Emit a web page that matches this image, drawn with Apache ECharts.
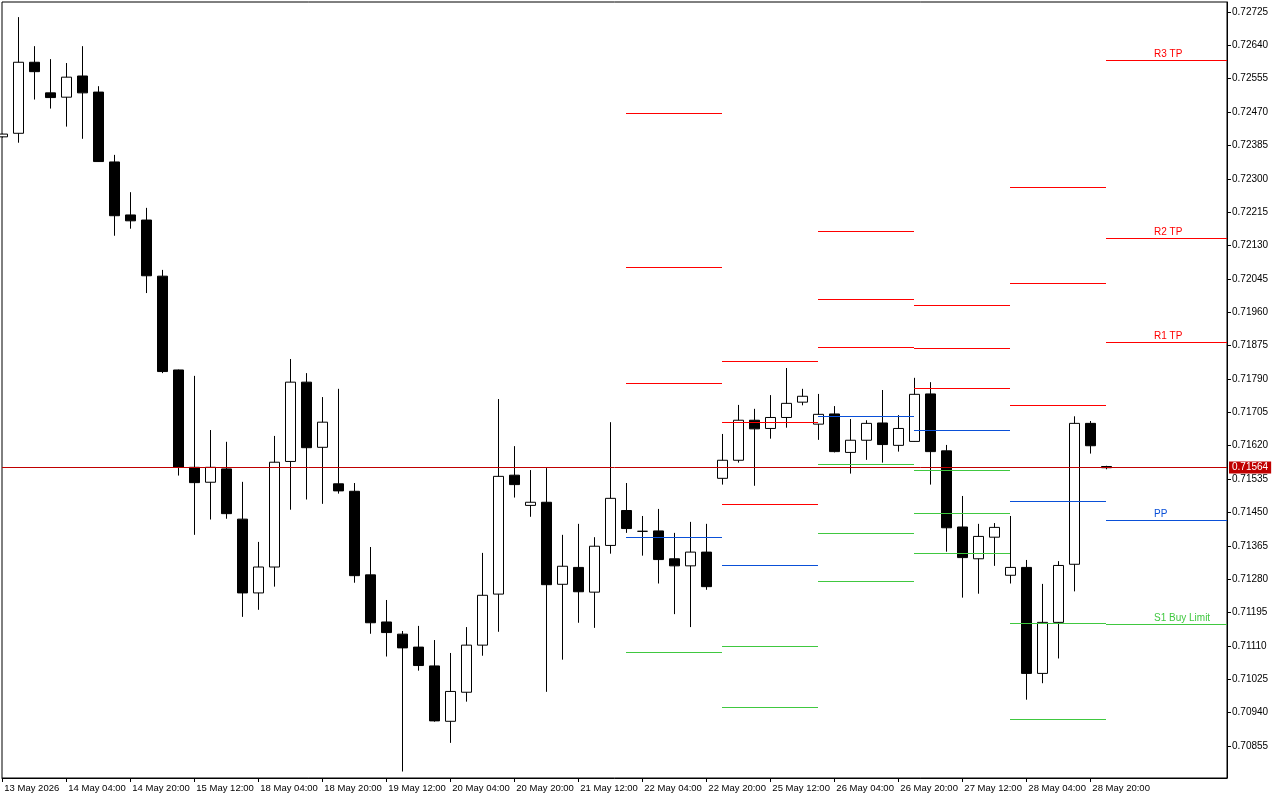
<!DOCTYPE html>
<html>
<head>
<meta charset="utf-8">
<title>AUDUSD H4</title>
<script src="https://cdn.jsdelivr.net/npm/echarts@6/dist/echarts.min.js"></script>
<style>
    html,body{margin:0;padding:0;background:#fff;}
    #chart{width:1280px;height:800px;}
</style>
</head>
<body>
<div id="chart"></div>
<script>
// H4 bars, first one (13 May 12:00) is cut by the left edge
let open  = [0.72407,0.72416,0.72597,0.72519,0.72508,0.72562,0.72521,0.72343,0.72208,0.72195,
             0.72052,0.71813,0.71565,0.71527,0.71561,0.71433,0.71245,0.71311,0.71580,0.71782,
             0.71616,0.71523,0.71504,0.71291,0.71171,0.71140,0.71107,0.71059,0.70918,0.70992,
             0.71112,0.71242,0.71545,0.71468,0.71476,0.71267,0.71310,0.71247,0.71366,0.71455,
             0.71402,0.71403,0.71332,0.71314,0.71349,0.71537,0.71583,0.71685,0.71664,0.71692,
             0.71731,0.71675,0.71701,0.71603,0.71634,0.71678,0.71621,0.71631,0.71752,0.71607,
             0.71413,0.71332,0.71387,0.71290,0.71310,0.71040,0.71170,0.71318,0.71677,0.71567];
let high  = [0.72415,0.72712,0.72638,0.72605,0.72595,0.72638,0.72536,0.72361,0.72266,0.72226,
             0.72068,0.71814,0.71798,0.71660,0.71630,0.71528,0.71375,0.71645,0.71841,0.71805,
             0.71744,0.71765,0.71525,0.71362,0.71227,0.71148,0.71161,0.71125,0.71092,0.71158,
             0.71347,0.71739,0.71619,0.71558,0.71563,0.71393,0.71421,0.71387,0.71680,0.71525,
             0.71441,0.71459,0.71398,0.71426,0.71421,0.71650,0.71724,0.71714,0.71749,0.71818,
             0.71765,0.71752,0.71721,0.71688,0.71685,0.71762,0.71698,0.71793,0.71782,0.71622,
             0.71492,0.71421,0.71423,0.71441,0.71329,0.71268,0.71326,0.71695,0.71683,0.71569];
let low   = [0.72405,0.72392,0.72502,0.72479,0.72433,0.72402,0.72343,0.72155,0.72173,0.72009,
             0.71805,0.71544,0.71393,0.71432,0.71434,0.71184,0.71202,0.71261,0.71457,0.71483,
             0.71472,0.71498,0.71271,0.71141,0.71083,0.70790,0.71047,0.70917,0.70863,0.70968,
             0.71085,0.71146,0.71488,0.71439,0.70993,0.71075,0.71169,0.71156,0.71345,0.71398,
             0.71340,0.71269,0.71191,0.71158,0.71253,0.71521,0.71577,0.71518,0.71638,0.71666,
             0.71723,0.71635,0.71603,0.71549,0.71584,0.71577,0.71605,0.71630,0.71521,0.71350,
             0.71233,0.71243,0.71314,0.71269,0.70973,0.71015,0.71078,0.71249,0.71600,0.71560];
let close = [0.72414,0.72597,0.72573,0.72507,0.72559,0.72519,0.72344,0.72206,0.72193,0.72053,
             0.71809,0.71565,0.71526,0.71565,0.71447,0.71245,0.71311,0.71578,0.71782,0.71615,
             0.71680,0.71505,0.71289,0.71169,0.71144,0.71105,0.71060,0.70919,0.70994,0.71112,
             0.71239,0.71542,0.71521,0.71476,0.71266,0.71313,0.71248,0.71364,0.71486,0.71409,
             0.71402,0.71330,0.71314,0.71349,0.71261,0.71583,0.71685,0.71663,0.71692,0.71728,
             0.71746,0.71700,0.71605,0.71634,0.71677,0.71623,0.71664,0.71751,0.71605,0.71411,
             0.71335,0.71389,0.71412,0.71310,0.71040,0.71170,0.71315,0.71677,0.71620,0.71564];
let currentPrice = 0.71564;

// daily pivot levels, each day drawn from its first bar to the next day's first bar
let pivotStart = [38, 44, 50, 56, 62, 68];
let R3 = [0.72467, 0.71835, 0.72167, 0.71979, 0.72278, 0.72604];
let R2 = [0.72075, 0.71680, 0.71994, 0.71868, 0.72034, 0.72148];
let R1 = [0.71779, 0.71471, 0.71872, 0.71766, 0.71723, 0.71884];
let PP = [0.71387, 0.71315, 0.71695, 0.71659, 0.71478, 0.71430];
let S1 = [0.71094, 0.71109, 0.71573, 0.71557, 0.71168, 0.71165];
let S2 = [null,    0.70954, 0.71397, 0.71448, 0.70924, null];
let S3 = [null,    null,    0.71275, 0.71346, null,    null];
let lastDayLabels = {R3:'R3 TP', R2:'R2 TP', R1:'R1 TP', PP:'PP', S1:'S1 Buy Limit'};

let yTicks = [0.70855,0.70940,0.71025,0.71110,0.71195,0.71280,0.71365,0.71450,0.71535,0.71620,
              0.71705,0.71790,0.71875,0.71960,0.72045,0.72130,0.72215,0.72300,0.72385,0.72470,
              0.72555,0.72640,0.72725];
let xTickPos = [-1,3,7,11,15,19,23,27,31,35,39,43,47,51,55,59,63,67];
let xTickLabels = ['13 May 2026','14 May 04:00','14 May 20:00','15 May 12:00','18 May 04:00','18 May 20:00',
                   '19 May 12:00','20 May 04:00','20 May 20:00','21 May 12:00','22 May 04:00','22 May 20:00',
                   '25 May 12:00','26 May 04:00','26 May 20:00','27 May 12:00','28 May 04:00','28 May 20:00'];

let xMin = -1.02, xMax = 75.54;
let font = '"Liberation Sans", Arial, sans-serif';
let red = '#FF0000', blue = '#0A50D8', green = '#40C840', priceRed = '#C00000';

let candles = open.map((o, i) => [i - 1, o, close[i], low[i], high[i]]);

let levels = {R3:R3, R2:R2, R1:R1, PP:PP, S1:S1, S2:S2, S3:S3};
let levelColor = {R3:red, R2:red, R1:red, PP:blue, S1:green, S2:green, S3:green};
let segs = [];
Object.keys(levels).forEach(name => {
    levels[name].forEach((v, d) => {
        if (v == null) return;
        let last = d === pivotStart.length - 1;
        segs.push({
            from: pivotStart[d],
            to: last ? xMax : pivotStart[d + 1],
            value: v,
            color: levelColor[name],
            label: last ? lastDayLabels[name] : null
        });
    });
});

let chart = echarts.init(document.getElementById('chart'));
let option = {
    backgroundColor: '#fff',
    animation: false,
    grid: {
        left: 2, right: 53, top: 2, bottom: 22,
        show: true, borderColor: '#000', borderWidth: 1, backgroundColor: '#fff'
    },
    xAxis: {
        type: 'value',
        min: xMin, max: xMax,
        axisLine: {show: true, onZero: false, lineStyle: {color: '#000'}},
        axisTick: {show: true, length: 4, lineStyle: {color: '#000'}, customValues: xTickPos},
        axisLabel: {
            customValues: xTickPos,
            color: '#000', fontSize: 9.5, fontFamily: font,
            align: 'left', margin: 5, padding: [0, 0, 0, 2],
            formatter: v => xTickLabels[xTickPos.indexOf(v)] || ''
        },
        splitLine: {show: false}
    },
    yAxis: {
        type: 'value',
        position: 'right',
        min: 0.707735, max: 0.727505,
        axisLine: {show: true, onZero: false, lineStyle: {color: '#000'}},
        axisTick: {show: true, length: 4, lineStyle: {color: '#000'}, customValues: yTicks},
        axisLabel: {
            customValues: yTicks,
            color: '#000', fontSize: 10, fontFamily: font, margin: 5,
            formatter: v => v.toFixed(5)
        },
        splitLine: {show: false}
    },
    series: [
        {
            type: 'candlestick',
            name: 'AUDUSD',
            z: 1,
            barWidth: 10,
            encode: {x: 0, y: [1, 2, 3, 4]},
            data: candles,
            itemStyle: {
                color: '#fff', color0: '#000',
                borderColor: '#000', borderColor0: '#000', borderColorDoji: '#000',
                borderWidth: 1
            }
        },
        {
            // pivot lines sit on top of the bars, like chart objects
            type: 'custom',
            name: 'pivots',
            clip: true,
            silent: true,
            z: 2,
            encode: {x: 0, y: 1},
            data: segs.map(s => [s.from, s.value]),
            renderItem: (params, api) => {
                let s = segs[params.dataIndex];
                let p1 = api.coord([s.from, s.value]);
                let p2 = api.coord([s.to, s.value]);
                let y = Math.round(p1[1]) + 0.5;
                let children = [{
                    type: 'line',
                    shape: {x1: Math.round(p1[0]), y1: y, x2: Math.round(p2[0]), y2: y},
                    style: {stroke: s.color, lineWidth: 1}
                }];
                if (s.label) {
                    let pl = api.coord([s.from + 3, s.value]);
                    children.push({
                        type: 'text',
                        style: {
                            text: s.label, x: Math.round(pl[0]), y: y - 1,
                            fill: s.color, font: '10px ' + font,
                            align: 'left', verticalAlign: 'bottom'
                        }
                    });
                }
                return {type: 'group', children: children};
            }
        },
        {
            // current bid line + its price tag on the axis
            type: 'custom',
            name: 'bid',
            clip: false,
            silent: true,
            z: 3,
            encode: {x: 0, y: 1},
            data: [[xMin, currentPrice]],
            renderItem: (params, api) => {
                let p1 = api.coord([xMin, currentPrice]);
                let p2 = api.coord([xMax, currentPrice]);
                let y = Math.round(p1[1]) - 0.5;
                return {type: 'group', children: [{
                    type: 'line',
                    shape: {x1: Math.round(p1[0]), y1: y, x2: Math.round(p2[0]), y2: y},
                    style: {stroke: priceRed, lineWidth: 1}
                }, {
                    type: 'text',
                    style: {
                        text: currentPrice.toFixed(5), x: Math.round(p2[0]) + 2, y: y,
                        fill: '#fff', font: '10px ' + font,
                        align: 'left', verticalAlign: 'middle',
                        backgroundColor: priceRed, padding: [1, 3, 1, 3]
                    }
                }]};
            }
        }
    ]
};
chart.setOption(option);
</script>
</body>
</html>
